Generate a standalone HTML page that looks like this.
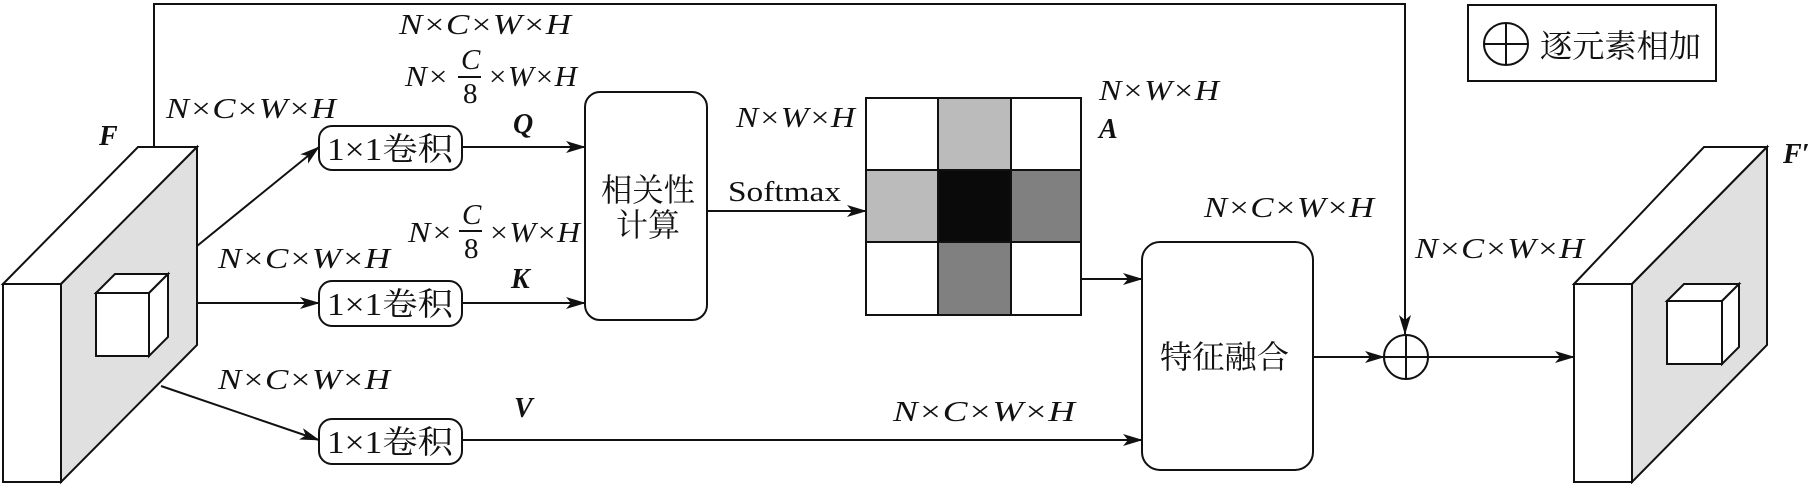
<!DOCTYPE html>
<html><head><meta charset="utf-8"><style>
html,body{margin:0;padding:0;background:#fff;}
svg{display:block;}
.it{font-family:"Liberation Serif",serif;font-style:italic;font-size:29px;}
.bi{font-family:"Liberation Serif",serif;font-style:italic;font-weight:bold;font-size:28px;}
.zh{font-family:"Liberation Serif","Noto Serif CJK SC","Noto Sans CJK SC",serif;font-size:32px;}
.rm{font-family:"Liberation Serif",serif;font-size:28px;}
</style></head><body>
<svg width="1817" height="484" viewBox="0 0 1817 484" xmlns="http://www.w3.org/2000/svg">
<defs>
<marker id="ah" markerWidth="20" markerHeight="12" refX="19" refY="6" orient="auto" markerUnits="userSpaceOnUse">
<path d="M0,0 L20,6 L0,12 L5,6 Z" fill="#111"/></marker>
</defs>
<g stroke="#111" stroke-width="2" fill="none">
<polygon points="3,284 138,147 197,147 61,284" fill="#fff"/>
<polygon points="61,284 197,147 197,345 61,482" fill="#e0e0e0"/>
<rect x="3" y="284" width="58" height="198" fill="#fff"/>
<polygon points="96,293 115,274 168,274 149,293" fill="#fff"/>
<polygon points="149,293 168,274 168,337 149,356" fill="#fff"/>
<rect x="96" y="293" width="53" height="63" fill="#fff"/>
<polyline points="154,147 154,4 1405,4 1405,334" marker-end="url(#ah)"/>
<line x1="197" y1="246" x2="319" y2="147" marker-end="url(#ah)"/>
<line x1="197" y1="303" x2="319" y2="303" marker-end="url(#ah)"/>
<line x1="161" y1="386" x2="319" y2="440" marker-end="url(#ah)"/>
<rect x="319" y="126" width="143" height="44" rx="13" fill="#fff"/>
<rect x="319" y="281" width="143" height="45" rx="13" fill="#fff"/>
<rect x="319" y="419" width="143" height="45" rx="13" fill="#fff"/>
<line x1="462" y1="147" x2="585" y2="147" marker-end="url(#ah)"/>
<line x1="462" y1="303" x2="585" y2="303" marker-end="url(#ah)"/>
<rect x="585" y="92" width="122" height="228" rx="15" fill="#fff"/>
<line x1="707" y1="211" x2="866" y2="211" marker-end="url(#ah)"/>
<rect x="938" y="98" width="73" height="72" fill="#bbb" stroke="none"/>
<rect x="866" y="170" width="72" height="72" fill="#bbb" stroke="none"/>
<rect x="938" y="170" width="73" height="72" fill="#0a0a0a" stroke="none"/>
<rect x="1011" y="170" width="70" height="72" fill="#808080" stroke="none"/>
<rect x="938" y="242" width="73" height="73" fill="#808080" stroke="none"/>
<rect x="866" y="98" width="215" height="217"/>
<line x1="938" y1="98" x2="938" y2="315"/><line x1="1011" y1="98" x2="1011" y2="315"/>
<line x1="866" y1="170" x2="1081" y2="170"/><line x1="866" y1="242" x2="1081" y2="242"/>
<line x1="1081" y1="279" x2="1142" y2="279" marker-end="url(#ah)"/>
<line x1="462" y1="440" x2="1142" y2="440" marker-end="url(#ah)"/>
<rect x="1142" y="242" width="171" height="228" rx="18" fill="#fff"/>
<line x1="1313" y1="357" x2="1384" y2="357" marker-end="url(#ah)"/>
<circle cx="1406" cy="357" r="22" fill="none"/>
<line x1="1384" y1="357" x2="1428" y2="357"/><line x1="1406" y1="335" x2="1406" y2="379"/>
<line x1="1428" y1="357" x2="1574" y2="357" marker-end="url(#ah)"/>
<polygon points="1574,284 1704,147 1767,147 1632,284" fill="#fff"/>
<polygon points="1632,284 1767,147 1767,345 1632,482" fill="#e0e0e0"/>
<rect x="1574" y="284" width="58" height="198" fill="#fff"/>
<polygon points="1667,301 1684,284 1739,284 1722,301" fill="#fff"/>
<polygon points="1722,301 1739,284 1739,347 1722,364" fill="#fff"/>
<rect x="1667" y="301" width="55" height="63" fill="#fff"/>
<rect x="1468" y="5" width="248" height="76"/>
<ellipse cx="1506" cy="44" rx="22" ry="21"/>
<line x1="1484" y1="44" x2="1528" y2="44"/><line x1="1506" y1="23" x2="1506" y2="65"/>
<line x1="458" y1="77" x2="481" y2="77"/>
<line x1="459" y1="231" x2="482" y2="231"/>
</g>
<g fill="#111">
<text class="it" x="399" y="34" textLength="172" lengthAdjust="spacingAndGlyphs">N×C×W×H</text>
<text class="it" x="405" y="86" textLength="44" lengthAdjust="spacingAndGlyphs">N×</text>
<text class="it" x="461" y="69" font-size="26">C</text>
<text class="it" x="463" y="103" font-size="26" style="font-style:normal">8</text>
<text class="it" x="487" y="86" textLength="90" lengthAdjust="spacingAndGlyphs">×W×H</text>
<text class="it" x="166" y="118" textLength="170" lengthAdjust="spacingAndGlyphs">N×C×W×H</text>
<text class="bi" x="99" y="145">F</text>
<text class="bi" x="513" y="133">Q</text>
<text class="it" x="736" y="127" textLength="119" lengthAdjust="spacingAndGlyphs">N×W×H</text>
<text class="rm" x="728" y="201" textLength="113" lengthAdjust="spacingAndGlyphs">Softmax</text>
<text class="zh" x="601" y="201" textLength="94" lengthAdjust="spacingAndGlyphs">相关性</text>
<text class="zh" x="616" y="236" textLength="64" lengthAdjust="spacingAndGlyphs">计算</text>
<text class="it" x="408" y="242" textLength="45" lengthAdjust="spacingAndGlyphs">N×</text>
<text class="it" x="462" y="224" font-size="26">C</text>
<text class="it" x="464" y="258" font-size="26" style="font-style:normal">8</text>
<text class="it" x="488" y="242" textLength="92" lengthAdjust="spacingAndGlyphs">×W×H</text>
<text class="it" x="218" y="268" textLength="172" lengthAdjust="spacingAndGlyphs">N×C×W×H</text>
<text class="bi" x="511" y="288">K</text>
<text class="it" x="218" y="389" textLength="172" lengthAdjust="spacingAndGlyphs">N×C×W×H</text>
<text class="bi" x="514" y="417">V</text>
<text class="zh" x="327" y="160" textLength="126" lengthAdjust="spacingAndGlyphs">1×1卷积</text>
<text class="zh" x="327" y="315" textLength="126" lengthAdjust="spacingAndGlyphs">1×1卷积</text>
<text class="zh" x="327" y="453" textLength="126" lengthAdjust="spacingAndGlyphs">1×1卷积</text>
<text class="it" x="1099" y="100" textLength="120" lengthAdjust="spacingAndGlyphs">N×W×H</text>
<text class="bi" x="1099" y="138">A</text>
<text class="it" x="1204" y="217" textLength="170" lengthAdjust="spacingAndGlyphs">N×C×W×H</text>
<text class="it" x="1415" y="258" textLength="169" lengthAdjust="spacingAndGlyphs">N×C×W×H</text>
<text class="it" x="893" y="421" textLength="182" lengthAdjust="spacingAndGlyphs">N×C×W×H</text>
<text class="zh" x="1160" y="368" textLength="129" lengthAdjust="spacingAndGlyphs">特征融合</text>
<text class="bi" x="1783" y="163">F′</text>
<text class="zh" x="1540" y="57" textLength="161" lengthAdjust="spacingAndGlyphs">逐元素相加</text>
</g>
</svg>
</body></html>
